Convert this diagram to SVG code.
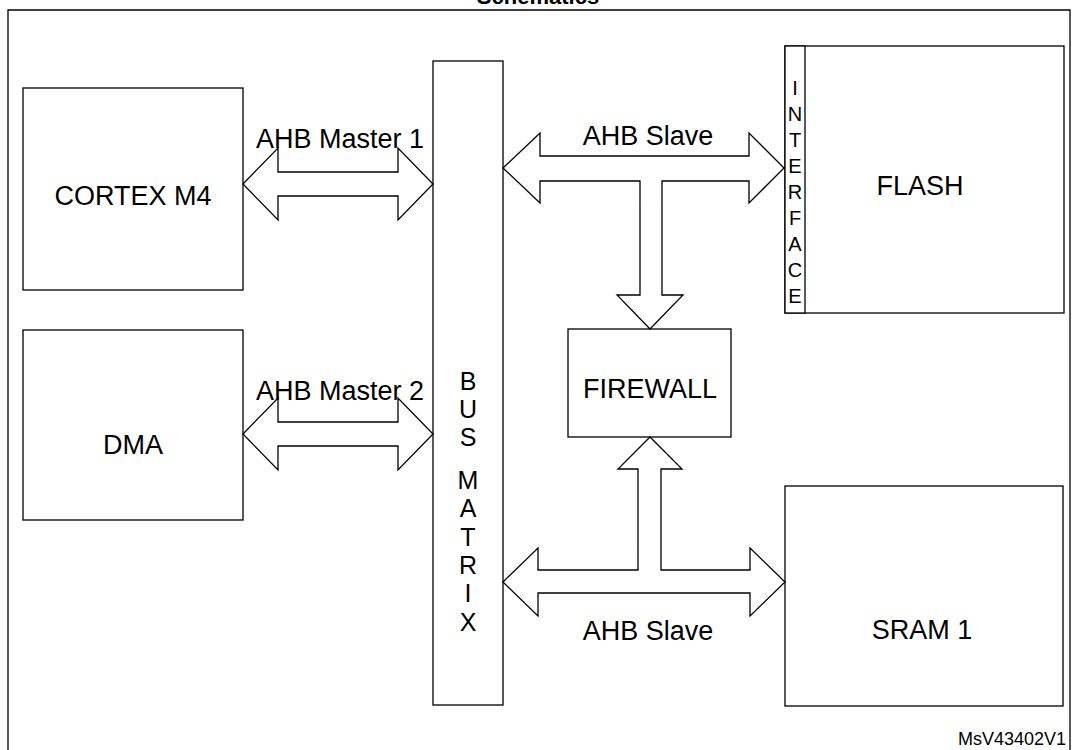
<svg xmlns="http://www.w3.org/2000/svg" width="1077" height="750" viewBox="0 0 1077 750">
<style>
text{font-family:"Liberation Sans",Arial,sans-serif;font-size:27px;fill:#000}
.b{fill:#fff;stroke:#000;stroke-width:1.3}
.a{fill:#fff;stroke:#000;stroke-width:1.3;stroke-linejoin:miter}
.c{text-anchor:middle}
.i{font-size:20px}
.m{font-size:25px}
.t{font-size:22px;font-weight:bold}
.v{font-size:18px;text-anchor:end}
</style>
<rect width="1077" height="750" fill="#fff"/>
<text x="538" y="4" class="c t">Schematics</text>
<path d="M8 750V10H1070V750" fill="none" stroke="#000" stroke-width="1.3"/>
<g id="cortex"><rect class="b" x="23" y="88" width="220" height="202"/><text x="133" y="205" class="c">CORTEX M4</text></g>
<g id="dma"><rect class="b" x="23" y="330" width="220" height="190"/><text x="133" y="454" class="c">DMA</text></g>
<g id="busmatrix"><rect class="b" x="433" y="61" width="70" height="644"/>
<text x="468" y="390" class="c m">B</text><text x="468" y="418" class="c m">U</text><text x="468" y="446" class="c m">S</text><text x="468" y="489" class="c m">M</text><text x="468" y="517" class="c m">A</text><text x="468" y="546" class="c m">T</text><text x="468" y="574" class="c m">R</text><text x="468" y="602" class="c m">I</text><text x="468" y="631" class="c m">X</text></g>
<g id="flash"><rect class="b" x="785" y="46" width="279" height="267"/><rect class="b" x="785" y="46" width="20" height="267"/>
<text x="795" y="95" class="c i">I</text><text x="795" y="121" class="c i">N</text><text x="795" y="147" class="c i">T</text><text x="795" y="173" class="c i">E</text><text x="795" y="199" class="c i">R</text><text x="795" y="225" class="c i">F</text><text x="795" y="251" class="c i">A</text><text x="795" y="277" class="c i">C</text><text x="795" y="303" class="c i">E</text>
<text x="920" y="195" class="c">FLASH</text></g>
<g id="firewall"><rect class="b" x="568" y="329" width="163" height="108"/><text x="650" y="398" class="c">FIREWALL</text></g>
<g id="sram"><rect class="b" x="785" y="486" width="278" height="220"/><text x="922" y="639" class="c">SRAM 1</text></g>
<g id="connectors">
<path class="a" d="M243 184L278 148V172H398V148L433 184L398 220V196H278V220Z"/>
<path class="a" d="M243 434L278 398V422H398V398L433 434L398 470V446H278V470Z"/>
<path class="a" d="M503 168L540 133V156H749V133L784 168L749 203V181H662V295H683L650 329L617 295H640V181H540V203Z"/>
<path class="a" d="M503 582L538 548V570H638V469H618L650 437L682 469H661V570H750V548L785 582L750 616V593H538V616Z"/>
<text x="340" y="148" class="c">AHB Master 1</text>
<text x="340" y="400" class="c">AHB Master 2</text>
<text x="648" y="145" class="c">AHB Slave</text>
<text x="648" y="640" class="c">AHB Slave</text>
</g>
<text x="1066" y="745" class="v">MsV43402V1</text>
</svg>
